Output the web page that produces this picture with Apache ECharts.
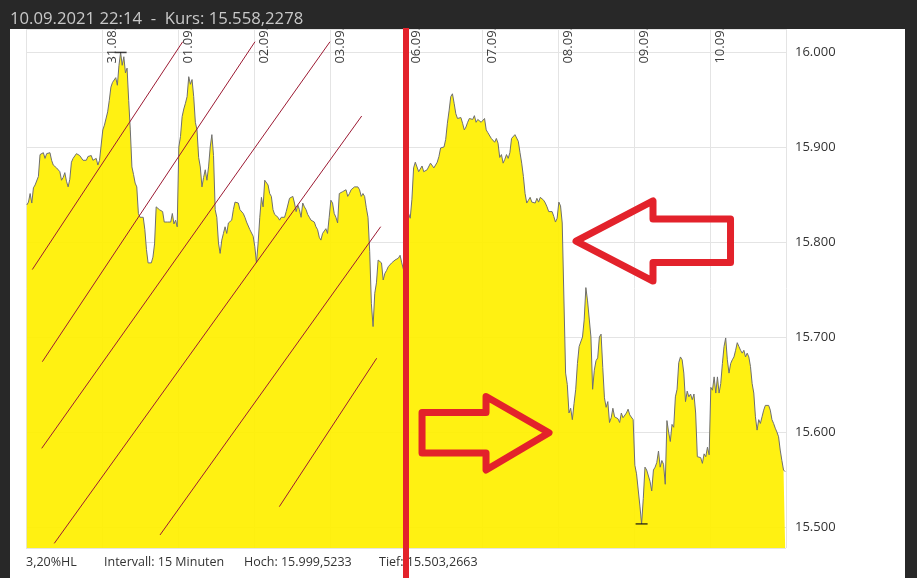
<!DOCTYPE html>
<html><head><meta charset="utf-8">
<script src="https://cdn.jsdelivr.net/npm/echarts@6/dist/echarts.min.js"></script>
<style>html,body{margin:0;padding:0;background:#282828}#c{width:917px;height:578px}</style>
</head><body><div id="c"></div>
<script>
// ---- data ----
const dayLabels = ['30.08.', '31.08.', '01.09.', '02.09.', '03.09.', '06.09.', '07.09.', '08.09.', '09.09.', '10.09.'];
const d0830 = [15839,15842,15851,15841,15857,15860,15862,15869,15892,15891,15894,15888,15893,15892,15894,15886,15881,15879,15878,15877,15874,15865,15868,15873,15864,15858,15866,15884,15888,15890,15893,15894,15891,15892,15886,15888,15886,15890,15888,15891,15886,15884,15888,15881,15886,15888];
const d0831 = [15918,15923,15921,15937,15949,15963,15968,15966,15973,15965,15986,15999.5233,15986,15995,15978,15983,15949,15918,15879,15871,15862,15858,15830,15826,15828,15826,15813,15792,15778,15776,15778,15784,15798,15837,15835,15834,15832,15832,15821,15823,15821,15823,15821,15830,15819,15823,15816];
const d0901 = [15900,15911,15932,15940,15946,15953,15974,15966,15971,15953,15926,15918,15889,15879,15858,15868,15876,15865,15879,15900,15913,15891,15834,15826,15799,15788,15802,15809,15816,15809,15820,15822,15823,15834,15842,15844,15841,15834,15836,15830,15826,15821,15819,15813,15811,15806];
const d0902 = [15795,15778,15799,15826,15847,15837,15865,15864,15860,15851,15848,15834,15829,15830,15826,15823,15826,15825,15826,15832,15832,15846,15844,15848,15841,15832,15839,15834,15826,15841,15837,15834,15829,15826,15823,15821,15821,15816,15813,15805,15802,15809,15811,15814,15809,15826];
const d0903 = [15844,15841,15830,15826,15820,15851,15853,15853,15854,15855,15848,15851,15855,15857,15858,15860,15858,15855,15848,15851,15848,15836,15826,15790,15735,15711,15746,15757,15781,15781,15778,15760,15767,15770,15774,15776,15778,15778,15781,15780,15783,15786,15778,15771,15768];
const d0906 = [15834,15830,15825,15845,15878,15884,15882,15874,15875,15880,15874,15872,15876,15878,15883,15884,15878,15878,15884,15890,15899,15898,15900,15908,15925,15938,15953,15956,15946,15935,15930,15932,15931,15925,15918,15921,15926,15930,15932,15929,15933,15926,15929,15930,15926];
const d0907 = [15928,15930,15918,15915,15913,15909,15911,15905,15909,15904,15889,15892,15883,15887,15892,15888,15894,15909,15911,15913,15911,15906,15894,15883,15869,15851,15841,15844,15847,15842,15842,15841,15846,15842,15847,15849,15844,15841,15837,15832,15830,15832,15827,15821,15825];
const d0908 = [15842,15838,15820,15740,15662,15650,15620,15625,15613,15630,15645,15672,15690,15688,15700,15718,15752,15738,15736,15700,15645,15665,15675,15678,15700,15703,15668,15636,15626,15632,15610,15615,15625,15616,15618,15614,15610,15620,15615,15615,15620,15624,15618,15616,15613];
const d0909 = [15565,15556,15539,15522,15503.2663,15530,15563,15560,15562,15548,15538,15560,15563,15568,15580,15563,15570,15566,15545,15612,15600,15590,15608,15605,15637,15645,15673,15679,15676,15662,15632,15643,15637,15640,15634,15640,15620,15574,15574,15573,15567,15577,15574,15584,15576];
const d0910 = [15647,15644,15658,15641,15658,15641,15651,15672,15690,15699,15676,15662,15672,15676,15679,15686,15694,15690,15686,15683,15686,15679,15683,15679,15669,15651,15641,15616,15602,15613,15609,15616,15623,15628,15626,15628,15623,15613,15609,15604,15600,15595,15581,15570,15560,15558.2278];
const days = [d0830, d0831, d0901, d0902, d0903, d0906, d0907, d0908, d0909, d0910];

const titleText = '10.09.2021 22:14  -  Kurs: 15.558,2278';
const footerTexts = ['3,20%HL', 'Intervall: 15 Minuten', 'Hoch: 15.999,5233', 'Tief: 15.503,2663'];
const hoch = 15999.5233, tief = 15503.2663;

// hand-drawn annotations, in chart coordinates [day, price]
const diagLines = [
  [[0.083, 15771], [2.062, 16010.8]],
  [[0.215, 15674], [3.013, 16010.8]],
  [[0.207, 15582.8], [4.0, 16010.8]],
  [[0.372, 15482.8], [4.417, 15932.6]],
  [[1.763, 15491.6], [4.667, 15816.1]],
  [[3.333, 15521.4], [4.614, 15677.6]]
];
const arrowLeft = [[7.237,15801],[8.25,15843.2],[8.25,15824.2],[9.27,15824.2],[9.27,15778.4],[8.25,15778.4],[8.25,15758.9]];
const arrowRight = [[5.211,15620.5],[6.053,15620.5],[6.053,15637.4],[6.882,15599.3],[6.053,15560],[6.053,15577.9],[5.211,15577.9]];
const redLineDay = 5;

// ---- build ----
const points = [];
days.forEach((arr, d) => arr.forEach((v, i) => points.push([d + (i + 0.5) / arr.length, v])));
let hi = points[0], lo = points[0];
points.forEach(p => { if (p[1] > hi[1]) hi = p; if (p[1] < lo[1]) lo = p; });
const markers = [[hi[0], hoch], [lo[0], tief]];

const fmtK = v => { const s = String(Math.round(v)); return s.slice(0, s.length - 3) + '.' + s.slice(-3); };
const FONT = 'Open Sans';

const chart = echarts.init(document.getElementById('c'), null, {renderer: 'canvas'});
chart.setOption({
  backgroundColor: '#ffffff',
  animation: false,
  grid: {left: 26, right: 131, top: 29, bottom: 30, containLabel: false, outerBoundsMode: 'none'},
  xAxis: {
    type: 'value', position: 'top', min: 0, max: 10, interval: 1,
    axisLine: {show: false}, axisTick: {show: false}, axisLabel: {show: false},
    splitLine: {show: true, lineStyle: {color: '#e4e4e4', width: 1}}
  },
  yAxis: {
    type: 'value', position: 'right', offset: 4, min: 15477.9, max: 16024.2, splitNumber: 5,
    axisLine: {show: true, lineStyle: {color: '#e4e4e4'}}, axisTick: {show: false},
    splitLine: {show: true, lineStyle: {color: '#e4e4e4', width: 1}},
    axisLabel: {
      margin: 5, fontSize: 13, color: '#333', fontFamily: FONT,
      formatter: v => (Math.abs(v / 100 - Math.round(v / 100)) < 1e-6) ? fmtK(v) : ''
    }
  },
  series: [
    {
      type: 'line', data: points, showSymbol: false, symbol: 'none', silent: true,
      lineStyle: {color: '#6f6f6f', width: 1},
      areaStyle: {color: '#fff000', opacity: 0.93, origin: 'start'},
      markLine: {
        silent: true, symbol: ['none', 'none'], label: {show: false},
        lineStyle: {color: '#9c1a33', width: 1, type: 'solid'},
        emphasis: {disabled: true},
        data: diagLines.map(l => [{coord: l[0]}, {coord: l[1]}])
      }
    },
    {
      type: 'scatter', data: markers, symbol: 'rect', symbolSize: [12, 1.5], silent: true,
      itemStyle: {color: '#111'}, z: 5
    }
  ]
});

const px = p => chart.convertToPixel({gridIndex: 0}, p);
const redX = px([redLineDay, 16000])[0];
const arrowStyle = {fill: 'none', stroke: '#e3222b', lineWidth: 7, lineJoin: 'round'};
const footFont = '12.5px "Open Sans"';
const gridTop = px([0, 16024.2])[1];
// day labels at the day ticks, placed through the x scale
const dayLabelEls = dayLabels.map((t, d) => d === 0 ? null : {
  type: 'text', x: px([d, 16000])[0] + 4, y: gridTop - 2, rotation: Math.PI / 2,
  style: {text: t, fill: '#3a3a3a', font: '13px "Open Sans"', align: 'right', verticalAlign: 'top'},
  z: 40, silent: true
}).filter(Boolean);
chart.setOption({
  graphic: dayLabelEls.concat([
    {type: 'rect', shape: {x: 0, y: 0, width: 917, height: 29}, style: {fill: '#282828'}, z: 50, silent: true},
    {type: 'rect', shape: {x: 0, y: 0, width: 10, height: 578}, style: {fill: '#282828'}, z: 50, silent: true},
    {type: 'rect', shape: {x: 905, y: 0, width: 12, height: 578}, style: {fill: '#282828'}, z: 50, silent: true},
    {type: 'text', x: 10, y: 19, style: {text: titleText, fill: '#c8c8c8', font: '16.7px "Open Sans"', verticalAlign: 'middle'}, z: 51, silent: true},
    {type: 'text', x: 26, y: 562, style: {text: footerTexts[0], fill: '#333', font: footFont, verticalAlign: 'middle'}, z: 51, silent: true},
    {type: 'text', x: 104, y: 562, style: {text: footerTexts[1], fill: '#333', font: footFont, verticalAlign: 'middle'}, z: 51, silent: true},
    {type: 'text', x: 244, y: 562, style: {text: footerTexts[2], fill: '#333', font: footFont, verticalAlign: 'middle'}, z: 51, silent: true},
    {type: 'text', x: 379, y: 562, style: {text: footerTexts[3], fill: '#333', font: footFont, verticalAlign: 'middle'}, z: 51, silent: true},
    {type: 'polygon', shape: {points: arrowLeft.map(px)}, style: arrowStyle, z: 60, silent: true},
    {type: 'polygon', shape: {points: arrowRight.map(px)}, style: arrowStyle, z: 60, silent: true},
    {type: 'rect', shape: {x: redX - 3, y: 28, width: 6, height: 550}, style: {fill: '#e3222b'}, z: 61, silent: true}
  ])
});
</script>
</body></html>
